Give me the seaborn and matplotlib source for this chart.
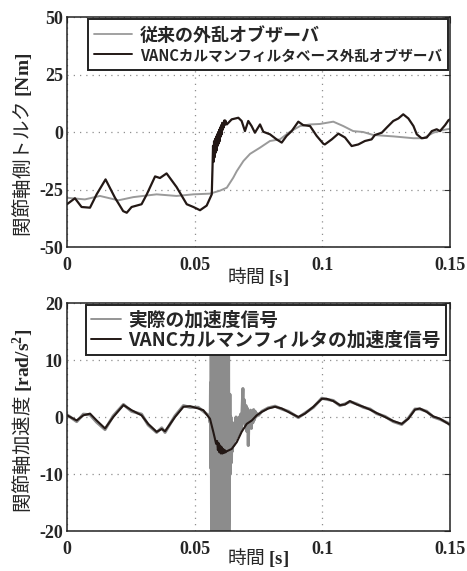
import numpy as np
import pandas as pd
import matplotlib
matplotlib.use("Agg")
import matplotlib.pyplot as plt
import seaborn as sns

# ---- data: joint torque (top) ----
dob_time = [0, 0.007, 0.0129, 0.0201, 0.026, 0.0351, 0.0429, 0.0495, 0.056, 0.0599,
            0.0626, 0.0651, 0.0665, 0.0691, 0.0717, 0.0756, 0.0795, 0.0834, 0.0873,
            0.0913, 0.0952, 0.0991, 0.1043, 0.1082, 0.1121, 0.116, 0.12, 0.1278,
            0.1357, 0.1396, 0.1435, 0.1474, 0.15]
dob_torque = [-28.6, -29.3, -27.8, -29.7, -28.3, -27.1, -27.8, -27.1, -26.8, -25.5,
              -24.2, -19.9, -17.0, -12.6, -9.5, -6.8, -3.9, -3.2, 0.1,
              2.6, 3.3, 3.5, 4.5, 2.6, 0.4, 0.0, -1.3, -1.9,
              -2.7, -2.7, -0.3, 0.9, 1.4]

kf_time = [0, 0.0031, 0.0057, 0.009, 0.0116, 0.0151, 0.0188, 0.022, 0.0234, 0.0253,
           0.0292, 0.0312, 0.0345, 0.0364, 0.039, 0.0429, 0.0469, 0.0495, 0.0521,
           0.0547, 0.0567,
           0.0570, 0.0572, 0.0574, 0.0576, 0.0578, 0.0580, 0.0582, 0.0584, 0.0586,
           0.0588, 0.0590, 0.0592, 0.0594, 0.0596, 0.0598, 0.0600, 0.0602, 0.0604,
           0.0606, 0.0608, 0.0610, 0.0612, 0.0614, 0.0616, 0.0618, 0.0620,
           0.0626, 0.0645, 0.0671, 0.0684, 0.0697, 0.071, 0.0723, 0.0736, 0.0756,
           0.0769, 0.0795, 0.0821, 0.0841, 0.086, 0.088, 0.0906, 0.0925, 0.0952,
           0.0978, 0.1004, 0.101, 0.1037, 0.1063, 0.1089, 0.1115, 0.1141, 0.1167,
           0.1193, 0.1206, 0.1233, 0.1252, 0.1278, 0.1298, 0.1317, 0.1337, 0.1357,
           0.137, 0.1389, 0.1409, 0.1429, 0.1448, 0.1461, 0.1481, 0.1494, 0.15]
kf_torque = [-31.4, -28.8, -32.6, -32.9, -27.1, -20.6, -28.6, -34.4, -35.1, -32.6,
             -31.4, -27.2, -19.3, -20.0, -18.0, -23.9, -31.4, -32.6, -34.0,
             -32.0, -27.1,
             -15, -6, -13, -4, -11, -3, -9, -2, -8,
             -1, -6, 0, -5, 1, -4, 2, -2, 3,
             -1, 4, 1, 4, 2, 5, 3, 5,
             3.3, 5.5, 6.2, 4.8, 0.4, 4.8, 2.6, -0.3, 3.3,
             0.1, -1.0, -3.2, -4.6, -1.7, 0.4, 4.5, 3.0, 2.6,
             -1.7, -5.1, -5.4, -3.2, -0.7, -2.4, -6.1, -5.4, -3.9,
             -3.2, -1.3, -0.3, 1.9, 4.8, 5.9, 7.7, 5.9, 2.6,
             -1.0, -2.7, -2.4, 0.4, 1.2, 0.4, 3.0, 5.1, 5.5]

# ---- data: joint acceleration (bottom) ----
real_pre_time = [0, 0.0038, 0.0064, 0.009, 0.0116, 0.0149, 0.0181, 0.0221, 0.0253,
                 0.0292, 0.0318, 0.0351, 0.0371, 0.0384, 0.0423, 0.0456, 0.0482,
                 0.0514, 0.0534, 0.0556]
real_pre_acc = [0.4, -0.8, 0.5, 0.4, -0.9, -2.2, 0.2, 2.2, 1.0,
                0.5, -1.4, -2.7, -1.9, -2.7, 0.2, 2.0, 1.7,
                1.7, 1.0, 0.2]
# saturated oscillation right after the impact (evenly sampled)
real_burst_acc = [-1, 6, -9, 15, -20, 28, -30, 30, -30, 30, -30, 30, -30, 30, -30,
                  30, -30, 30, -30, 30, -30, 30, -30, 30, -30, 30, -30, 30, -30,
                  30, -30, 30, -30, 30, -30, 30, -30, 30, -30, 30, -30, 30, -30,
                  30, -30, 30, -30, 30, -30, 30, -30, 26, -28, 22, -25, 15, -22]
real_post_time = [0.0636, 0.0638, 0.064, 0.0642, 0.0644, 0.0646, 0.0648, 0.065,
                  0.0653, 0.0656, 0.0659, 0.0662, 0.0665, 0.0668, 0.0671, 0.0674,
                  0.0677, 0.068, 0.0683, 0.0686, 0.0689, 0.0692, 0.0695, 0.0698,
                  0.0701, 0.0704, 0.0707, 0.071, 0.0713, 0.0716, 0.0719, 0.0722,
                  0.0725, 0.0728, 0.0731, 0.0734, 0.0737, 0.074, 0.0745, 0.075]
real_post_acc = [-14, 4, -10, 0, -8, -1, -6, -2,
                 -5, -1, -4, 0, -3.5, -0.5, -3, 0,
                 -2.5, 0.5, -2, 1.5, 5, -1, 3, -1.5,
                 2, -2.5, 1.5, -5, 1, -1.5, 1.2, -2,
                 1, -1, 1.3, -0.5, 1, 0, 0.6, 0.3]
real_tail_time = [0.0763, 0.0788, 0.0815, 0.0841, 0.0867, 0.0906, 0.0932, 0.0965,
                  0.0998, 0.1017, 0.1043, 0.1069, 0.1089, 0.1108, 0.1135, 0.1161,
                  0.1187, 0.1213, 0.1246, 0.1278, 0.1311, 0.1337, 0.1363, 0.1382,
                  0.1409, 0.1435, 0.1461, 0.1494, 0.15]
real_tail_acc = [1.0, 1.6, 1.9, 1.4, 1.0, -0.1, 0.7, 1.7,
                 3.3, 3.1, 2.9, 2.0, 2.3, 2.7, 2.3, 1.7,
                 1.4, 0.6, 0.1, -0.8, -1.3, -0.2, 1.4, 1.4,
                 1.0, 0.0, -0.4, -1.1, -1.4]

kfa_time = [0, 0.0038, 0.0064, 0.009, 0.0116, 0.0149, 0.0181, 0.0221, 0.0253, 0.0292,
            0.0318, 0.0351, 0.0371, 0.0384, 0.0423, 0.0456, 0.0482, 0.0514, 0.0534,
            0.056, 0.0573, 0.0584,
            0.0588, 0.0591, 0.0594, 0.0597, 0.0600, 0.0603, 0.0606, 0.0609, 0.0612,
            0.0615, 0.0618, 0.0621, 0.0624,
            0.0626, 0.0645, 0.0665, 0.0684, 0.0704, 0.0724, 0.0743, 0.0763, 0.0788,
            0.0815, 0.0841, 0.0867, 0.0906, 0.0932, 0.0965, 0.0998, 0.1017, 0.1043,
            0.1069, 0.1089, 0.1108, 0.1135, 0.1161, 0.1187, 0.1213, 0.1246, 0.1278,
            0.1311, 0.1337, 0.1363, 0.1382, 0.1409, 0.1435, 0.1461, 0.1494, 0.15]
kfa_acc = [0.3, -0.6, 0.3, 0.6, -0.6, -2.0, 0.0, 2.1, 1.2, 0.3,
           -1.2, -2.6, -2.1, -2.5, 0.0, 1.8, 1.9, 1.5, 1.2,
           -0.3, -2.6, -4.7,
           -4.2, -5.8, -4.6, -6.2, -5.0, -6.4, -5.3, -6.4, -5.6,
           -6.3, -5.8, -6.2, -6.0,
           -6.0, -5.6, -4.4, -2.6, -1.2, -0.6, 0.3, 0.9, 1.5,
           1.8, 1.5, 0.9, 0.0, 0.6, 1.8, 3.2, 3.2, 2.8,
           2.1, 2.2, 2.8, 2.2, 1.8, 1.3, 0.7, 0.0, -0.7,
           -1.2, -0.3, 1.3, 1.5, 0.9, 0.1, -0.3, -1.2, -1.3]

xticks = [0, 0.05, 0.1, 0.15]
xticklabels = ["0", "0.05", "0.1", "0.15"]
yticks_top = [-50, -25, 0, 25, 50]
yticks_bot = [-20, -10, 0, 10, 20]

label_dob = "従来の外乱オブザーバ"
label_kf = "VANCカルマンフィルタベース外乱オブザーバ"
label_real = "実際の加速度信号"
label_kfa = "VANCカルマンフィルタの加速度信号"

# ---- style ----
sns.set_style("white")
plt.rcParams["font.family"] = ["Noto Sans CJK JP", "DejaVu Sans"]
plt.rcParams["mathtext.fontset"] = "custom"
plt.rcParams["mathtext.bf"] = "Liberation Serif:bold"
plt.rcParams["mathtext.rm"] = "Liberation Serif"

BLACK = "#231815"
GRAY_T = "#9a9a9a"
GRAY_B = "#8c8c8c"

fig = plt.figure(figsize=(4.67, 5.71), dpi=100)
ax1 = fig.add_axes([0.1435, 0.5674, 0.82, 0.4028])
ax2 = fig.add_axes([0.1435, 0.0700, 0.82, 0.3993])

top_gray = pd.DataFrame({"t": dob_time, "v": dob_torque})
top_black = pd.DataFrame({"t": kf_time, "v": kf_torque})

burst_time = np.linspace(0.0561, 0.0634, len(real_burst_acc))
real_t = list(real_pre_time) + list(burst_time) + real_post_time + real_tail_time
real_v = real_pre_acc + real_burst_acc + real_post_acc + real_tail_acc
bot_gray = pd.DataFrame({"t": real_t, "v": real_v})
bot_black = pd.DataFrame({"t": kfa_time, "v": kfa_acc})

sns.lineplot(data=top_gray, x="t", y="v", ax=ax1, color=GRAY_T, lw=1.4,
             sort=False, estimator=None, label=label_dob)
sns.lineplot(data=top_black, x="t", y="v", ax=ax1, color=BLACK, lw=1.6,
             sort=False, estimator=None, label=label_kf)

sns.lineplot(data=bot_gray, x="t", y="v", ax=ax2, color=GRAY_B, lw=2.2,
             sort=False, estimator=None, label=label_real)
sns.lineplot(data=bot_black, x="t", y="v", ax=ax2, color=BLACK, lw=1.5,
             sort=False, estimator=None, label=label_kfa)

for ax, yt, ylab, ylc, xlc in [
    (ax1, yticks_top, "関節軸側トルク $\\mathbf{[Nm]}$", 0.443, -0.13),
    (ax2, yticks_bot, "関節軸加速度 $\\mathbf{[rad/s^2]}$", 0.482, -0.118),
]:
    ax.set_xlim(0, 0.15)
    ax.set_ylim(yt[0], yt[-1])
    ax.set_xticks(xticks)
    ax.set_xticklabels(xticklabels, fontfamily="Liberation Serif",
                       fontweight="bold", fontsize=13)
    ax.set_yticks(yt)
    ax.set_yticklabels([str(v) for v in yt], fontfamily="Liberation Serif",
                       fontweight="bold", fontsize=13)
    ax.tick_params(direction="in", length=4, width=0.8, top=True, right=True,
                   color="#333333")
    ax.tick_params(axis="x", pad=7)
    ax.tick_params(axis="y", pad=3)
    ax.grid(True, linestyle=(0, (1, 4)), color="#8f8f8f", linewidth=0.9)
    for s in ax.spines.values():
        s.set_color("#222222")
        s.set_linewidth(1.1)
    ax.set_xlabel("時間 $\\mathbf{[s]}$", fontsize=13.5, va="center")
    ax.xaxis.set_label_coords(0.5, xlc)
    ax.set_ylabel(ylab, fontsize=14, va="center")
    ax.yaxis.set_label_coords(-0.117, ylc)

leg1 = ax1.legend(loc="upper right", bbox_to_anchor=(0.995, 0.99),
                  frameon=True, fancybox=False, framealpha=1, edgecolor="#222222",
                  prop={"weight": "bold", "size": 13}, handlelength=2.1,
                  handletextpad=0.4, borderpad=0.35, labelspacing=0.15,
                  borderaxespad=0)
leg1.get_frame().set_linewidth(1.4)
leg1.get_texts()[1].set_fontsize(10.5)
leg1.get_lines()[0].set_linewidth(1.3)
leg1.get_lines()[1].set_linewidth(1.4)

leg2 = ax2.legend(loc="upper right", bbox_to_anchor=(0.99, 0.993),
                  frameon=True, fancybox=False, framealpha=1, edgecolor="#222222",
                  prop={"weight": "bold", "size": 13.5}, handlelength=1.6,
                  handletextpad=0.35, borderpad=0.3, labelspacing=0.05,
                  borderaxespad=0)
leg2.get_frame().set_linewidth(1.4)
leg2.get_lines()[0].set_linewidth(1.3)
leg2.get_lines()[1].set_linewidth(1.4)

fig.savefig("out.png", dpi=100)
